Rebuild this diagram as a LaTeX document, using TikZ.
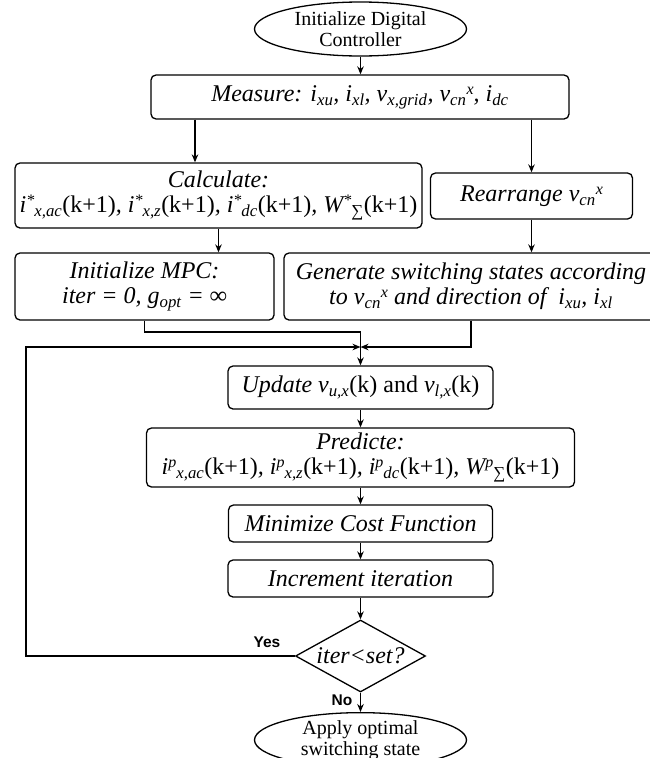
\documentclass[tikz,border=0pt]{standalone}
\usepackage{fontspec}
\setmainfont{Liberation Serif}
\newfontfamily\lblfont{Liberation Sans}
\usetikzlibrary{shapes.geometric,arrows.meta}
\newcommand{\lo}[1]{\textsubscript{#1}}
\newcommand{\hi}[1]{\raisebox{0.3em}{\fontsize{16}{16}\selectfont #1}}
\newcommand{\up}[1]{{\upshape #1}}
\begin{document}
\begin{tikzpicture}[x=1pt,y=-1pt,
  line width=1.3pt,
  box/.style={draw, rounded corners=5pt, align=center, inner sep=0pt,
    font=\fontsize{24}{25}\selectfont\itshape},
  term/.style={draw, ellipse, inner sep=0pt, align=center,
    minimum width=212pt, minimum height=54pt,
    font=\fontsize{20}{20.5}\selectfont},
  decbox/.style={draw, diamond, inner sep=0pt, aspect=1.8,
    minimum width=130pt, minimum height=72pt,
    font=\fontsize{24}{24}\selectfont\itshape},
  arr/.style={-{Stealth[length=8pt,width=6.5pt]}},
  lbl/.style={font=\lblfont\bfseries\fontsize{15.5}{15.5}\selectfont, inner sep=0pt},
]
\useasboundingbox (0,0) rectangle (649,758);

\node[term] (init) at (360.5,29) {Initialize Digital\\Controller};
\node[box, minimum width=418pt, minimum height=44pt] (meas) at (360,97)
  {Measure: i\lo{xu}, i\lo{xl}, v\lo{x,grid}, v\lo{cn}\hi{x}, i\lo{dc}};
\node[box, minimum width=407pt, minimum height=65pt] (calc) at (218.5,195.5)
  {Calculate:\\ i\hi{*}\lo{x,ac}\up{(k+1)}, i\hi{*}\lo{x,z}\up{(k+1)}, i\hi{*}\lo{dc}\up{(k+1)}, W\hi{*}\lo{\up{∑}}\up{(k+1)}};
\node[box, minimum width=202pt, minimum height=46pt] (rear) at (531.5,196)
  {Rearrange v\lo{cn}\hi{x}};
\node[box, minimum width=259pt, minimum height=67pt] (mpc) at (144.5,286.5)
  {Initialize MPC:\\ iter = 0, g\lo{opt} = ∞};
\node[box, minimum width=374pt, minimum height=67pt] (gen) at (471,286.5)
  {Generate switching states according\\ to v\lo{cn}\hi{x} and direction of\ \ i\lo{xu}, i\lo{xl}};
\node[box, minimum width=265pt, minimum height=43pt] (upd) at (360.5,387.5)
  {Update v\lo{u,x}\up{(k) and }v\lo{l,x}\up{(k)}};
\node[box, minimum width=428pt, minimum height=59pt] (pred) at (360.5,457.5)
  {Predicte:\\ i\hi{p}\lo{x,ac}\up{(k+1)}, i\hi{p}\lo{x,z}\up{(k+1)}, i\hi{p}\lo{dc}\up{(k+1)}, W\hi{p}\lo{\up{∑}}\up{(k+1)}};
\node[box, minimum width=264pt, minimum height=37pt] (mini) at (360.5,523.5)
  {Minimize Cost Function};
\node[box, minimum width=265pt, minimum height=37pt] (incr) at (360.5,578.5)
  {Increment iteration};
\node[decbox] (dec) at (360.5,656) {iter<set?};
\node[term] (apply) at (360.5,740) {Apply optimal\\switching state};

\node[lbl] (yes) at (267,642) {Yes};
\node[lbl] (no) at (342,700) {No};

\coordinate (j) at (360.5,347);
\coordinate (c1) at (195,0);
\coordinate (m1) at (144.5,332);
\coordinate (lp) at (26,0);

\draw[arr] (init.south) -- (init.south |- meas.north);
\draw[arr] (meas.south -| c1) -- (calc.north -| c1);
\draw[arr] (meas.south -| rear.north) -- (rear.north);
\draw[arr] (calc.south) -- (calc.south |- mpc.north);
\draw[arr] (rear.south) -- (gen.north -| rear.south);
\draw[arr] (mpc.south) -- (m1) -- (m1 -| j) -- (j |- upd.north);
\draw[arr] (gen.south) -- (gen.south |- j) -- (j);
\draw[arr] (dec.west) -- (dec.west -| lp) -- (j -| lp) -- (j);
\draw[arr] (upd.south) -- (pred.north);
\draw[arr] (pred.south) -- (mini.north);
\draw[arr] (mini.south) -- (incr.north);
\draw[arr] (incr.south) -- (dec.north);
\draw[arr] (dec.south) -- (apply.north);
\end{tikzpicture}
\end{document}
